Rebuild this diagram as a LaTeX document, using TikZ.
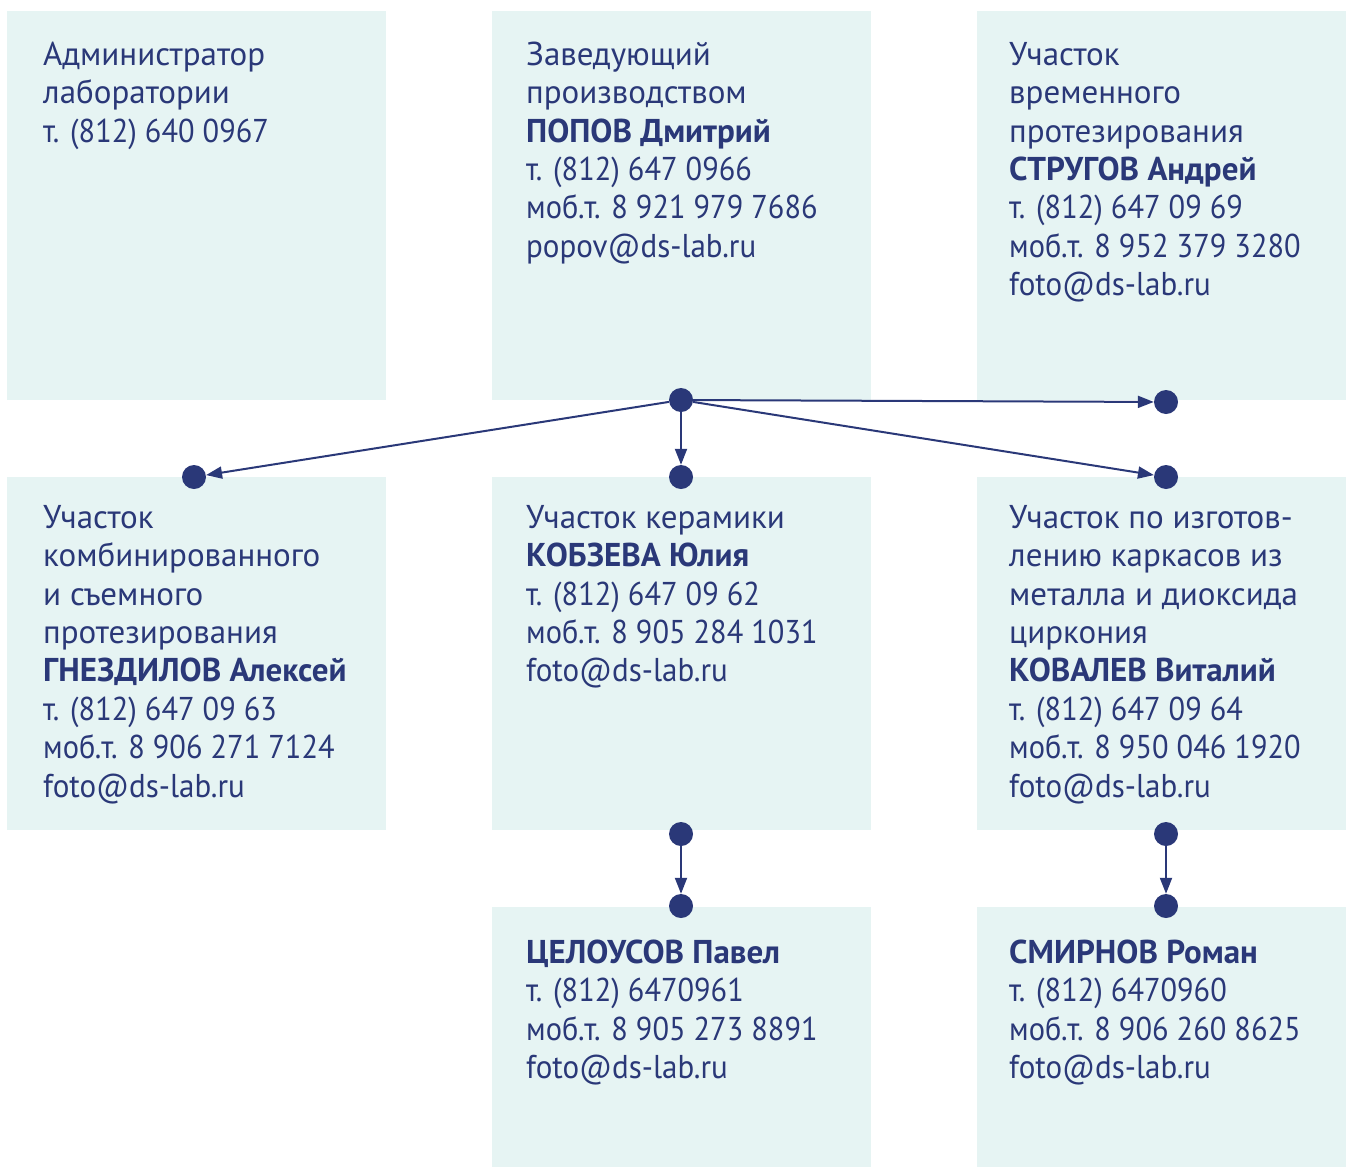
\documentclass[tikz,border=0pt]{standalone}
\usepackage{fontspec}
\setmainfont{PT Sans}
\newfontfamily\numfont[FakeStretch=0.92]{PT Sans}
\newfontfamily\mailfont[FakeStretch=0.94]{PT Sans}
\usetikzlibrary{arrows.meta}
\definecolor{navy}{HTML}{2A3878}
\definecolor{boxfill}{HTML}{E6F4F3}
\newcommand\ph[1]{{\numfont #1}}
\newcommand\ml[1]{{\mailfont #1}}
\newcommand\nm[1]{{\bfseries #1}}
\begin{document}
\begin{tikzpicture}[x=1pt,y=-1pt,
  box/.style={fill=boxfill, draw=none, inner sep=0, anchor=north west},
  txt/.style={anchor=north west, inner sep=0, align=left, text=navy,
    font=\fontsize{33}{38.4}\selectfont},
  dot/.style={circle, fill=navy, minimum size=24pt, inner sep=0},
  arr/.style={draw=navy, line width=2pt, -{Triangle[length=16pt,width=12pt]}}]
\useasboundingbox (0,0) rectangle (1346,1167);
% boxes
\node[box, minimum width=379pt, minimum height=389pt] (b1) at (7,11) {};
\node[box, minimum width=379pt, minimum height=389pt] (b2) at (492,11) {};
\node[box, minimum width=369pt, minimum height=389pt] (b3) at (977,11) {};
\node[box, minimum width=379pt, minimum height=353pt] (b4) at (7,477) {};
\node[box, minimum width=379pt, minimum height=353pt] (b5) at (492,477) {};
\node[box, minimum width=369pt, minimum height=353pt] (b6) at (977,477) {};
\node[box, minimum width=379pt, minimum height=260pt] (b7) at (492,907) {};
\node[box, minimum width=369pt, minimum height=260pt] (b8) at (977,907) {};
% texts
\def\st{\rule{0pt}{30pt}}
\node[txt] (t1) at (43,35) {\st Администратор\\лаборатории\\\ph{т. (812) 640 0967}};
\node[txt] (t2) at (526,35) {\st Заведующий\\производством\\\nm{ПОПОВ Дмитрий}\\\ph{т. (812) 647 0966}\\\ph{моб.т. 8 921 979 7686}\\\ml{popov@ds-lab.ru}};
\node[txt] (t3) at (1009,35) {\st Участок\\временного\\протезирования\\\nm{СТРУГОВ Андрей}\\\ph{т. (812) 647 09 69}\\\ph{моб.т. 8 952 379 3280}\\\ml{foto@ds-lab.ru}};
\node[txt] (t4) at (43,498) {\st Участок\\комбинированного\\и съемного\\протезирования\\\nm{ГНЕЗДИЛОВ Алексей}\\\ph{т. (812) 647 09 63}\\\ph{моб.т. 8 906 271 7124}\\\ml{foto@ds-lab.ru}};
\node[txt] (t5) at (526,498) {\st Участок керамики\\\nm{КОБЗЕВА Юлия}\\\ph{т. (812) 647 09 62}\\\ph{моб.т. 8 905 284 1031}\\\ml{foto@ds-lab.ru}};
\node[txt] (t6) at (1009,498) {\st Участок по изготов-\\лению каркасов из\\металла и диоксида\\циркония\\\nm{КОВАЛЕВ Виталий}\\\ph{т. (812) 647 09 64}\\\ph{моб.т. 8 950 046 1920}\\\ml{foto@ds-lab.ru}};
\node[txt] (t7) at (526,933) {\st\nm{ЦЕЛОУСОВ Павел}\\\ph{т. (812) 6470961}\\\ph{моб.т. 8 905 273 8891}\\\ml{foto@ds-lab.ru}};
\node[txt] (t8) at (1009,933) {\st\nm{СМИРНОВ Роман}\\\ph{т. (812) 6470960}\\\ph{моб.т. 8 906 260 8625}\\\ml{foto@ds-lab.ru}};
% dots
\node[dot] (c) at (681,400) {};
\node[dot] (dr) at (1166,402) {};
\node[dot] (dl) at (194,477) {};
\node[dot] (dm) at (681,477) {};
\node[dot] (dm2) at (1166,477) {};
\node[dot] (u1) at (681,834) {};
\node[dot] (l1) at (681,906) {};
\node[dot] (u2) at (1166,834) {};
\node[dot] (l2) at (1166,906) {};
% arrows
\draw[arr] (c) -- (dr);
\draw[arr] (c) -- (dl);
\draw[arr] (c) -- (dm);
\draw[arr] (c) -- (dm2);
\draw[arr] (u1) -- (l1);
\draw[arr] (u2) -- (l2);
\end{tikzpicture}
\end{document}
